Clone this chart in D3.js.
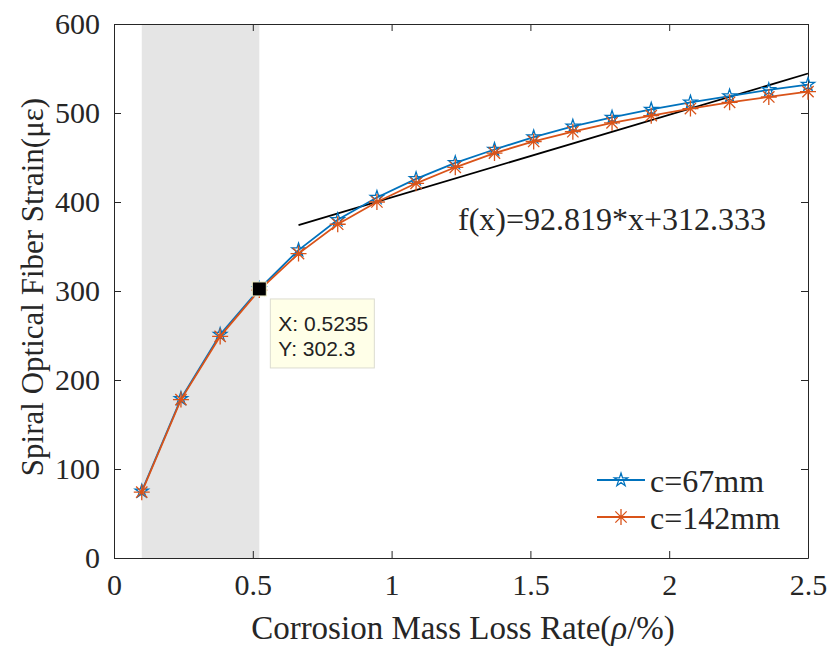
<!DOCTYPE html>
<html>
<head>
<meta charset="utf-8">
<script src="https://cdn.jsdelivr.net/npm/d3@7"></script>
<style>
  body { margin: 0; background: #fff; }
  svg text { font-family: "Liberation Serif", "Times New Roman", serif; fill: #262626; }
  .tip text { font-family: "Liberation Sans", Arial, sans-serif; fill: #222; }
</style>
</head>
<body>
<div id="chart-container"></div>
<script>
// corrosion rate (%) at each sample
let rate = [0.1, 0.2412, 0.3824, 0.5235, 0.6647, 0.8059, 0.9471, 1.0882, 1.2294,
            1.3706, 1.5118, 1.6529, 1.7941, 1.9353, 2.0765, 2.2176, 2.3588, 2.5];
let strain67 = [75, 179, 251, 302.3, 346, 380, 405, 426, 444, 459, 473, 485, 495, 504, 512, 519, 526, 532];
let strain142 = [74, 178, 249, 301, 342, 375, 400, 421, 439, 455, 468, 479, 489, 497, 505, 512, 518, 524];
let xTicks = [0, 0.5, 1, 1.5, 2, 2.5];
let yTicks = [0, 100, 200, 300, 400, 500, 600];
let fit = {slope: 92.819, intercept: 312.333, from: 0.6647, to: 2.5};
let shade = [0.1, 0.5235];
let tipPoint = {x: 0.5235, y: 302.3};

let margin = {top: 24, right: 22, bottom: 91, left: 114};
let W = 830, H = 649;
let width = W - margin.left - margin.right;
let height = H - margin.top - margin.bottom;

let svg = d3.select('#chart-container').append('svg')
    .attr('width', W)
    .attr('height', H);

let g = svg.append('g')
    .attr('transform', 'translate(' + margin.left + ',' + margin.top + ')');

let x = d3.scaleLinear().domain([0, 2.5]).range([0, width]);
let y = d3.scaleLinear().domain([0, 600]).range([height, 0]);

// shaded band
g.append('rect')
    .attr('x', x(shade[0]))
    .attr('y', 0)
    .attr('width', x(shade[1]) - x(shade[0]))
    .attr('height', height)
    .attr('fill', '#e5e5e5');

// axes (ticks inward, box on)
let axisColor = '#262626';
let tickLen = 7;
function styleAxis(sel) {
    sel.selectAll('path').attr('stroke', axisColor).attr('stroke-width', 1);
    sel.selectAll('line').attr('stroke', axisColor).attr('stroke-width', 1);
    sel.selectAll('text').style('font-size', '30px').attr('fill', axisColor);
}
g.append('g')
    .attr('transform', 'translate(0,' + height + ')')
    .call(d3.axisBottom(x).tickValues(xTicks).tickSizeInner(-tickLen).tickSizeOuter(0).tickPadding(16)
        .tickFormat(d3.format('')))
    .call(styleAxis);
g.append('g')
    .call(d3.axisLeft(y).tickValues(yTicks).tickSizeInner(-tickLen).tickSizeOuter(0).tickPadding(14))
    .call(styleAxis);
g.append('g')
    .call(d3.axisTop(x).tickValues(xTicks).tickSizeInner(-tickLen).tickSizeOuter(0).tickFormat(''))
    .call(styleAxis);
g.append('g')
    .attr('transform', 'translate(' + width + ',0)')
    .call(d3.axisRight(y).tickValues(yTicks).tickSizeInner(-tickLen).tickSizeOuter(0).tickFormat(''))
    .call(styleAxis);

// fit line
g.append('line')
    .attr('x1', x(fit.from)).attr('y1', y(fit.slope * fit.from + fit.intercept))
    .attr('x2', x(fit.to)).attr('y2', y(fit.slope * fit.to + fit.intercept))
    .attr('stroke', '#000')
    .attr('stroke-width', 1.8);

let blue = '#0072BD', orange = '#D95319';
let line = d3.line().x(function(d) { return x(d[0]); }).y(function(d) { return y(d[1]); });
let series = [
    {name: 'c=67mm', color: blue, values: d3.zip(rate, strain67), marker: 'star'},
    {name: 'c=142mm', color: orange, values: d3.zip(rate, strain142), marker: 'asterisk'}
];

let starPath = d3.symbol().type(d3.symbolStar).size(55)();
function asteriskPath(r) {
    let p = '';
    for (let k = 0; k < 4; k++) {
        let a = k * Math.PI / 4;
        let dx = r * Math.cos(a), dy = r * Math.sin(a);
        p += 'M' + (-dx) + ',' + (-dy) + 'L' + dx + ',' + dy;
    }
    return p;
}
function drawMarker(sel, s) {
    if (s.marker === 'star') {
        sel.append('path').attr('d', starPath)
            .attr('fill', 'none').attr('stroke', s.color).attr('stroke-width', 1.3);
    } else {
        sel.append('path').attr('d', asteriskPath(8))
            .attr('fill', 'none').attr('stroke', s.color).attr('stroke-width', 1.3);
    }
}

series.forEach(function(s) {
    g.append('path')
        .datum(s.values)
        .attr('d', line)
        .attr('fill', 'none')
        .attr('stroke', s.color)
        .attr('stroke-width', 1.8);
    g.selectAll('g.m-' + s.marker)
        .data(s.values)
        .enter().append('g')
        .attr('class', 'm-' + s.marker)
        .attr('transform', function(d) { return 'translate(' + x(d[0]) + ',' + y(d[1]) + ')'; })
        .each(function() { drawMarker(d3.select(this), s); });
});

// data tip
let tp = g.append('g').attr('class', 'tip');
tp.append('rect')
    .attr('x', x(tipPoint.x) - 7).attr('y', y(tipPoint.y) - 7)
    .attr('width', 14).attr('height', 14)
    .attr('fill', '#000').attr('stroke', '#f0f0c8').attr('stroke-width', 1);
let bx = x(tipPoint.x) + 11, by = y(tipPoint.y) + 10;
tp.append('rect')
    .attr('x', bx).attr('y', by)
    .attr('width', 104).attr('height', 69)
    .attr('fill', '#ffffe8').attr('stroke', '#dcdcd0').attr('stroke-width', 1);
tp.append('text').attr('x', bx + 8).attr('y', by + 32).style('font-size', '21px')
    .text('X: ' + tipPoint.x);
tp.append('text').attr('x', bx + 8).attr('y', by + 57).style('font-size', '21px')
    .text('Y: ' + tipPoint.y);

// equation
g.append('text')
    .attr('x', 458 - margin.left)
    .attr('y', 230 - margin.top)
    .style('font-size', '32px')
    .attr('fill', '#111')
    .text('f(x)=' + fit.slope + '*x+' + fit.intercept);

// legend
let legend = g.append('g').attr('transform', 'translate(' + (597 - margin.left) + ',' + (480 - margin.top) + ')');
series.forEach(function(s, i) {
    let row = legend.append('g').attr('transform', 'translate(0,' + (i * 37) + ')');
    row.append('line').attr('x1', 0).attr('x2', 48).attr('y1', 0).attr('y2', 0)
        .attr('stroke', s.color).attr('stroke-width', 1.8);
    let m = row.append('g').attr('transform', 'translate(24,0)');
    drawMarker(m, s);
    row.append('text').attr('x', 53).attr('y', 12)
        .style('font-size', '32px').attr('fill', '#111')
        .text(s.name);
});

// axis labels
svg.append('text')
    .attr('x', margin.left + width / 2 + 2)
    .attr('y', 639)
    .attr('text-anchor', 'middle')
    .style('font-size', '33px')
    .html('Corrosion Mass Loss Rate(<tspan font-style="italic">ρ</tspan>/%)');
svg.append('text')
    .attr('transform', 'translate(43,' + (margin.top + height / 2 - 4) + ') rotate(-90)')
    .attr('text-anchor', 'middle')
    .style('font-size', '31px')
    .text('Spiral Optical Fiber Strain(με)');
</script>
</body>
</html>
